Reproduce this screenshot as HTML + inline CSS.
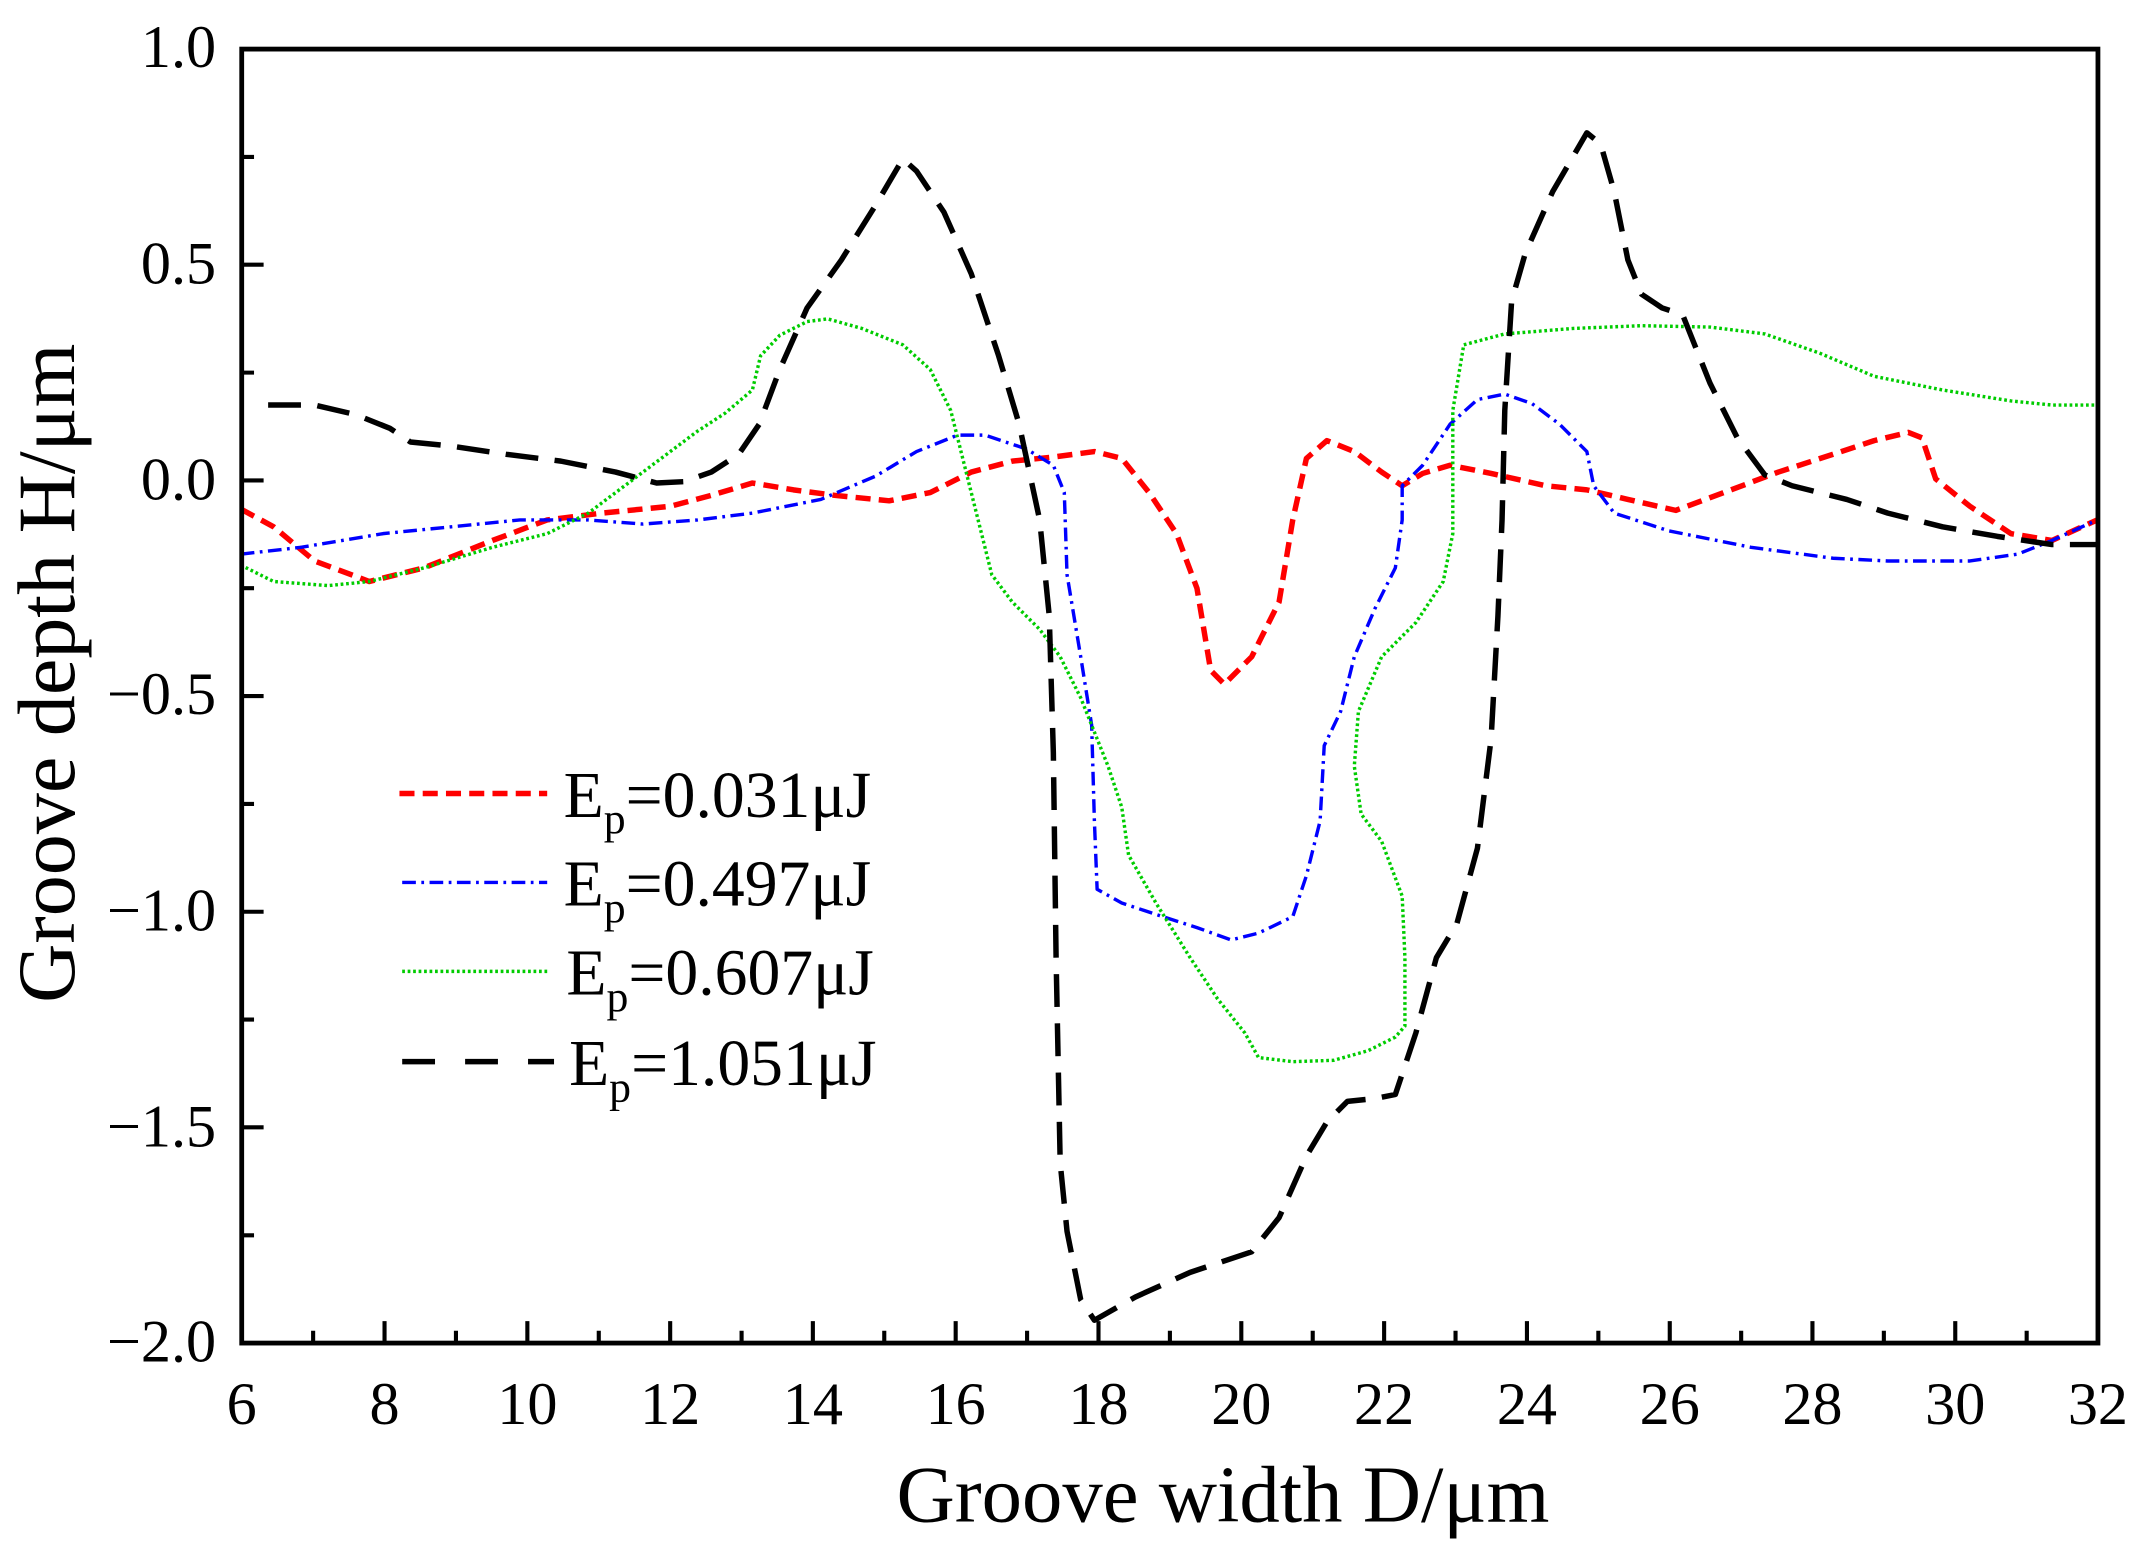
<!DOCTYPE html>
<html><head><meta charset="utf-8"><style>
html,body{margin:0;padding:0;background:#fff}
svg{display:block}
text{font-family:"Liberation Serif",serif;fill:#000}
</style></head><body>
<svg width="2145" height="1557" viewBox="0 0 1568 1138" xmlns="http://www.w3.org/2000/svg">
<rect width="1568" height="1138" fill="#fff"/>
<g fill="none" stroke-linejoin="round">
<polyline stroke="#ff0000" stroke-width="4" stroke-dasharray="11,6" points="176,372 200,385 230,410 270,425 310,415 360,395 400,380 440,375 490,370 520,362 550,353 580,358 610,362 650,366 680,360 710,345 740,337 770,334 800,330 820,335 840,360 860,390 875,430 885,490 895,500 915,480 935,440 945,380 955,335 970,322 990,330 1010,345 1025,355 1040,346 1060,340 1090,346 1130,355 1160,358 1190,365 1225,373 1260,360 1300,345 1340,332 1370,322 1395,316 1405,320 1415,350 1440,370 1470,390 1500,395 1533,380"/>
<polyline stroke="#0000ff" stroke-width="2.5" stroke-dasharray="10,4,2,4" points="176,405 220,400 280,390 330,385 380,380 430,380 470,383 510,380 550,375 600,365 640,348 670,330 700,318 720,318 750,328 770,340 778,360 780,420 790,480 798,530 800,600 802,650 820,660 850,670 875,678 900,687 920,682 945,670 955,640 965,600 968,545 980,520 990,480 1005,445 1020,415 1025,380 1025,355 1040,340 1060,310 1080,292 1100,288 1120,295 1140,310 1160,330 1165,355 1180,375 1220,388 1280,400 1340,408 1380,410 1440,410 1475,405 1500,395 1533,380"/>
<polyline stroke="#00cc00" stroke-width="2.5" stroke-dasharray="2,2" points="176,413 200,425 240,428 270,425 310,415 360,400 400,390 430,375 450,360 470,345 490,330 510,315 530,302 550,285 556,260 570,245 590,235 605,233 630,240 660,252 680,270 695,300 705,340 715,380 725,420 740,440 760,460 775,480 790,510 810,560 820,590 825,625 845,660 870,700 890,730 910,755 920,773 945,776 975,775 1000,768 1020,758 1027,750 1027,700 1025,655 1010,615 995,595 990,560 993,520 1010,480 1035,455 1055,425 1062,390 1062,300 1070,252 1100,244 1150,240 1200,238 1250,239 1290,244 1330,258 1370,275 1420,285 1470,293 1500,296 1533,296"/>
<polyline stroke="#000" stroke-width="4" stroke-dasharray="24,12" points="196,296 230,296 260,303 285,313 300,323 330,326 370,332 410,337 450,345 480,353 500,352 520,345 540,332 555,310 570,270 590,225 615,190 640,150 660,116 670,125 690,155 710,200 730,260 745,310 760,380 767,450 770,550 772,700 775,850 780,900 790,950 800,965 830,948 870,930 915,915 935,890 955,845 970,820 985,805 1005,803 1020,800 1035,755 1050,700 1065,675 1080,620 1090,540 1095,450 1098,380 1100,300 1105,220 1115,185 1135,140 1160,97 1170,105 1180,140 1190,190 1200,215 1215,225 1230,230 1250,280 1270,320 1290,347 1310,355 1350,365 1380,375 1420,385 1460,392 1500,398 1533,398"/>
</g>
<rect x="176.7" y="35.8" width="1356.9" height="945.9" fill="none" stroke="#000" stroke-width="3.5"/>
<g stroke="#000" stroke-width="3">
<path d="M176.7,981.7v-16M281.1,981.7v-16M385.5,981.7v-16M489.9,981.7v-16M594.2,981.7v-16M698.6,981.7v-16M803,981.7v-16M907.4,981.7v-16M1011.8,981.7v-16M1116.2,981.7v-16M1220.6,981.7v-16M1324.9,981.7v-16M1429.3,981.7v-16"/>
<path d="M228.9,981.7v-9M333.3,981.7v-9M437.7,981.7v-9M542.1,981.7v-9M646.4,981.7v-9M750.8,981.7v-9M855.2,981.7v-9M959.6,981.7v-9M1064,981.7v-9M1168.4,981.7v-9M1272.8,981.7v-9M1377.1,981.7v-9M1481.5,981.7v-9"/>
<path d="M176.7,35.8h16M176.7,193.4h16M176.7,351.1h16M176.7,508.7h16M176.7,666.4h16M176.7,824h16"/>
<path d="M176.7,114.6h9M176.7,272.3h9M176.7,429.9h9M176.7,587.6h9M176.7,745.2h9M176.7,902.9h9"/>
</g>
<g font-size="44" text-anchor="middle">
<text x="176.7" y="1041">6</text><text x="281.1" y="1041">8</text><text x="385.5" y="1041">10</text><text x="489.9" y="1041">12</text><text x="594.2" y="1041">14</text><text x="698.6" y="1041">16</text><text x="803" y="1041">18</text><text x="907.4" y="1041">20</text><text x="1011.8" y="1041">22</text><text x="1116.2" y="1041">24</text><text x="1220.6" y="1041">26</text><text x="1324.9" y="1041">28</text><text x="1429.3" y="1041">30</text><text x="1533.6" y="1041">32</text>
</g>
<g font-size="44" text-anchor="end">
<text x="158" y="49">1.0</text><text x="158" y="207">0.5</text><text x="158" y="365">0.0</text><text x="158" y="522">−0.5</text><text x="158" y="680">−1.0</text><text x="158" y="838">−1.5</text><text x="158" y="995">−2.0</text>
</g>
<text x="894" y="1112" font-size="59" text-anchor="middle">Groove width D/μm</text>
<text transform="translate(54,492) rotate(-90)" font-size="60" text-anchor="middle">Groove depth H/μm</text>
<g fill="none">
<line x1="292" y1="580" x2="400" y2="580" stroke="#ff0000" stroke-width="4" stroke-dasharray="11,6"/>
<line x1="294" y1="645" x2="400" y2="645" stroke="#0000ff" stroke-width="2.5" stroke-dasharray="10,4,2,4"/>
<line x1="294" y1="710" x2="400" y2="710" stroke="#00cc00" stroke-width="2.5" stroke-dasharray="2,2"/>
<line x1="294" y1="776" x2="405" y2="776" stroke="#000" stroke-width="4" stroke-dasharray="24,22"/>
</g>
<g font-size="48">
<text x="412" y="597">E<tspan font-size="32" dy="12">p</tspan><tspan dy="-12">=0.031μJ</tspan></text>
<text x="412" y="662">E<tspan font-size="32" dy="12">p</tspan><tspan dy="-12">=0.497μJ</tspan></text>
<text x="414" y="727">E<tspan font-size="32" dy="12">p</tspan><tspan dy="-12">=0.607μJ</tspan></text>
<text x="416" y="793">E<tspan font-size="32" dy="12">p</tspan><tspan dy="-12">=1.051μJ</tspan></text>
</g>
</svg>
</body></html>
